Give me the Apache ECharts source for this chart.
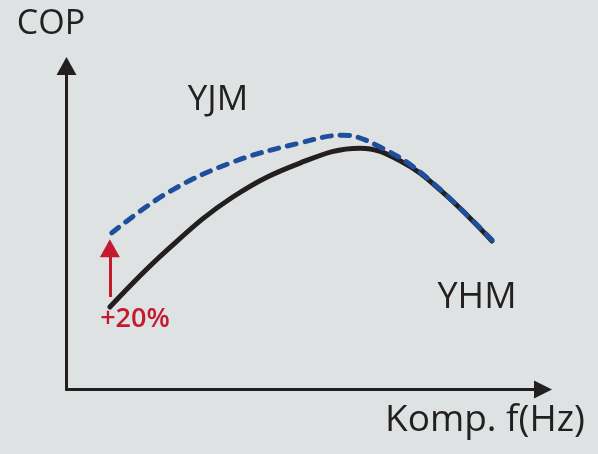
<!DOCTYPE html>
<html>
<head>
<meta charset="utf-8">
<script src="https://cdn.jsdelivr.net/npm/echarts@6/dist/echarts.min.js"></script>
<style>
html,body{margin:0;padding:0;background:#dfe2e2;}
#c{width:598px;height:454px;}
</style>
</head>
<body>
<div id="c"></div>
<script>
// Data (relative units)
var yhmCurve = [[9.1,25.5],[21.1,43.1],[34.9,59.5],[49.0,70.0],[61.6,74.6],[70.0,70.7],[78.4,61.7],[89.3,45.9]];
var yjmCurve = [[9.5,48.4],[21.1,60.7],[34.9,70.3],[49.0,76.2],[58.0,78.6],[66.0,74.8],[75.2,66.0],[89.3,46.2]];
var arrowX = 9.1;
var arrowFrom = 28.6;
var arrowTo = 43.7;
var labels = {y: 'COP', x: 'Komp. f(Hz)', yjm: 'YJM', yhm: 'YHM', gain: '+20%'};

var FONT = '"Open Sans", sans-serif';
var chart = echarts.init(document.getElementById('c'));
chart.setOption({
  backgroundColor: '#dfe2e2',
  animation: false,
  grid: {left: 66.5, top: 66, right: 55, bottom: 64.5},
  xAxis: {
    type: 'value', min: 0, max: 100,
    axisLine: {show: true, lineStyle: {color: '#231f20', width: 3}, symbol: ['none', 'triangle'], symbolSize: [18, 18]},
    axisTick: {show: false}, axisLabel: {show: false}, splitLine: {show: false}
  },
  yAxis: {
    type: 'value', min: 0, max: 100,
    axisLine: {show: true, lineStyle: {color: '#231f20', width: 3}, symbol: ['none', 'triangle'], symbolSize: [20, 18]},
    axisTick: {show: false}, axisLabel: {show: false}, splitLine: {show: false}
  },
  series: [
    {
      type: 'line', data: yhmCurve, smooth: 0.4, showSymbol: false, symbol: 'none',
      lineStyle: {color: '#231f20', width: 5, cap: 'round'},
      markLine: {
        silent: true, symbol: ['none', 'triangle'], symbolSize: [20, 18],
        label: {show: false},
        lineStyle: {color: '#c41a30', width: 3, type: 'solid'},
        data: [[{coord: [arrowX, arrowFrom]}, {coord: [arrowX, arrowTo]}]]
      }
    },
    {
      type: 'line', data: yjmCurve, smooth: 0.4, showSymbol: false, symbol: 'none',
      lineStyle: {color: '#1f4e9c', width: 5, type: [9, 9], cap: 'round'}
    }
  ],
  graphic: [
    {type: 'text', x: 51, y: 24, style: {text: labels.y, font: '34px ' + FONT, fill: '#231f20', align: 'center', verticalAlign: 'middle'}},
    {type: 'text', x: 218, y: 100, style: {text: labels.yjm, font: '35px ' + FONT, fill: '#231f20', align: 'center', verticalAlign: 'middle'}},
    {type: 'text', x: 477, y: 298, style: {text: labels.yhm, font: '36px ' + FONT, fill: '#231f20', align: 'center', verticalAlign: 'middle'}},
    {type: 'text', x: 485, y: 420, style: {text: labels.x, font: '37px ' + FONT, fill: '#231f20', align: 'center', verticalAlign: 'middle'}},
    {type: 'text', x: 135, y: 319, style: {text: labels.gain, font: '600 27px ' + FONT, fill: '#c41a30', align: 'center', verticalAlign: 'middle'}}
  ]
});
</script>
</body>
</html>
